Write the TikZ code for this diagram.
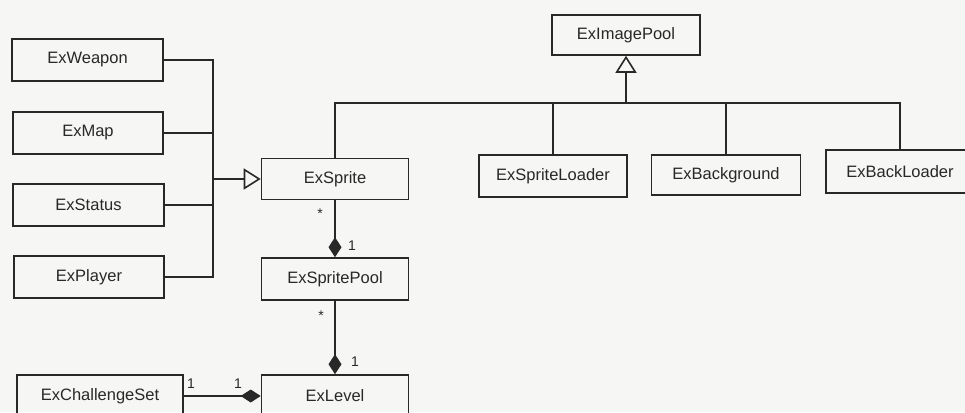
\documentclass[tikz,border=0pt]{standalone}
\usepackage{fontspec}
\setmainfont{Liberation Sans}
\usetikzlibrary{arrows.meta}
\definecolor{ink}{RGB}{40,40,40}
\definecolor{paper}{RGB}{246,246,244}
\begin{document}
\begin{tikzpicture}[x=1pt,y=-1pt,
  cls/.style={draw=ink, line width=1.6pt, inner sep=0pt, minimum width=148pt, minimum height=42pt,
    font=\fontsize{16.5}{20}\selectfont, text=ink},
  conn/.style={draw=ink, line width=1.6pt},
  gen/.style={conn, -{Triangle[open, length=17pt, width=21pt, line width=1.6pt]}},
  comp/.style={conn, -{Diamond[length=20pt, width=13pt]}},
  mult/.style={font=\fontsize{14}{16}\selectfont, text=ink, inner sep=0pt}]
\useasboundingbox (0,0) rectangle (965,412);
\fill[paper] (0,0) rectangle (965,412);
\clip (0,0) rectangle (965,412);
% classes
\node[cls, minimum width=151pt] (weapon) at (87.5,60) {ExWeapon};
\node[cls, minimum width=150pt] (map) at (88,133) {ExMap};
\node[cls, minimum width=151pt] (status) at (88.5,205) {ExStatus};
\node[cls, minimum width=150pt] (player) at (89,277) {ExPlayer};
\node[cls, minimum width=147pt, minimum height=41pt] (sprite) at (335,179) {ExSprite};
\node[cls, minimum width=147pt] (spritepool) at (335,279) {ExSpritePool};
\node[cls, minimum width=147pt] (level) at (335,396) {ExLevel};
\node[cls, minimum width=166pt] (challenge) at (100,396) {ExChallengeSet};
\node[cls, minimum height=40pt] (imagepool) at (626,35) {ExImagePool};
\node[cls] (spriteloader) at (553,176) {ExSpriteLoader};
\node[cls, minimum width=149pt, minimum height=40pt] (background) at (726,175) {ExBackground};
\node[cls, minimum height=43pt] (backloader) at (900,171.5) {ExBackLoader};
% left generalisation bus
\coordinate (bus) at (213,179);
\draw[conn] (weapon.east) -| (bus);
\draw[conn] (map.east) -| (bus);
\draw[conn] (status.east) -| (bus);
\draw[conn] (player.east) -| (bus);
\draw[gen] (bus) -- (sprite.west);
% top generalisation tree
\coordinate (top) at (626,103);
\draw[conn] (sprite.north) |- (top) -| (backloader.north);
\draw[conn] (spriteloader.north) -- (spriteloader.north |- top);
\draw[conn] (background.north) -- (background.north |- top);
\draw[gen] (top) -- (imagepool.south);
% compositions
\draw[comp] (sprite.south) -- (spritepool.north);
\draw[comp] (spritepool.south) -- (level.north);
\draw[comp] (challenge.east) -- (level.west);
% multiplicities
\node[mult] (m1) at (320,214) {*};
\node[mult] (m2) at (352,246) {1};
\node[mult] (m3) at (321,316) {*};
\node[mult] (m4) at (355,362) {1};
\node[mult] (m5) at (191,384) {1};
\node[mult] (m6) at (238,384) {1};
\end{tikzpicture}
\end{document}
